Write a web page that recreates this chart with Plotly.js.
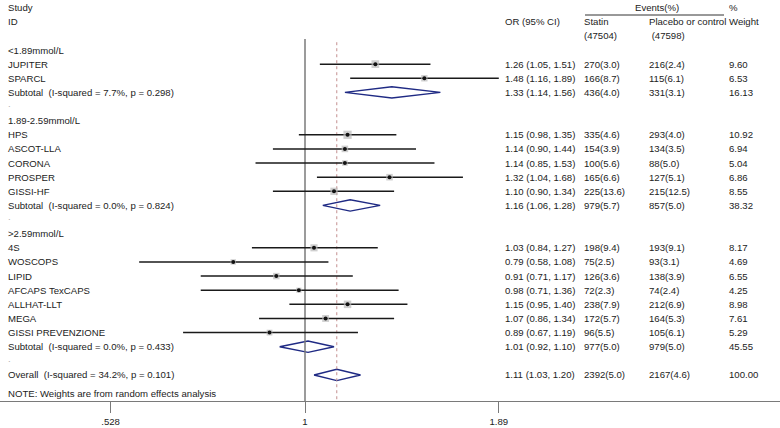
<!DOCTYPE html>
<html>
<head>
<meta charset="utf-8">
<script src="https://cdn.plot.ly/plotly-3.0.1.min.js"></script>
<style>html,body{margin:0;padding:0;background:#fff;}#chart{width:780px;height:428px;}</style>
</head>
<body>
<div id="chart"></div>
<script>
// ---------- data ----------
const rowLabels = ["<1.89mmol/L","JUPITER","SPARCL","Subtotal\u00a0 (I-squared = 7.7%, p = 0.298)",".",
  "1.89-2.59mmol/L","HPS","ASCOT-LLA","CORONA","PROSPER","GISSI-HF","Subtotal\u00a0 (I-squared = 0.0%, p = 0.824)",".",
  ">2.59mmol/L","4S","WOSCOPS","LIPID","AFCAPS TexCAPS","ALLHAT-LLT","MEGA","GISSI PREVENZIONE","Subtotal\u00a0 (I-squared = 0.0%, p = 0.433)",".",
  "Overall\u00a0 (I-squared = 34.2%, p = 0.101)"];
const rowKind = ["head","study","study","sub","blank",
  "head","study","study","study","study","study","sub","blank",
  "head","study","study","study","study","study","study","study","sub","blank",
  "overall"];
const orVal  = [null,1.26,1.48,1.33,null, null,1.15,1.14,1.14,1.32,1.10,1.16,null, null,1.03,0.79,0.91,0.98,1.15,1.07,0.89,1.01,null, 1.11];
const ciLo   = [null,1.05,1.16,1.14,null, null,0.98,0.90,0.85,1.04,0.90,1.06,null, null,0.84,0.58,0.71,0.71,0.95,0.86,0.67,0.92,null, 1.03];
const ciHi   = [null,1.51,1.89,1.56,null, null,1.35,1.44,1.53,1.68,1.34,1.28,null, null,1.27,1.08,1.17,1.36,1.40,1.34,1.19,1.10,null, 1.20];
const statinEv  = [null,"270(3.0)","166(8.7)","436(4.0)",null, null,"335(4.6)","154(3.9)","100(5.6)","165(6.6)","225(13.6)","979(5.7)",null,
  null,"198(9.4)","75(2.5)","126(3.6)","72(2.3)","238(7.9)","172(5.7)","96(5.5)","977(5.0)",null,"2392(5.0)"];
const placeboEv = [null,"216(2.4)","115(6.1)","331(3.1)",null, null,"293(4.0)","134(3.5)","88(5.0)","127(5.1)","215(12.5)","857(5.0)",null,
  null,"193(9.1)","93(3.1)","138(3.9)","74(2.4)","212(6.9)","164(5.3)","105(6.1)","979(5.0)",null,"2167(4.6)"];
const weightPct = [null,9.60,6.53,16.13,null, null,10.92,6.94,5.04,6.86,8.55,38.32,null, null,8.17,4.69,6.55,4.25,8.98,7.61,5.29,45.55,null,100.00];
const statinN = "(47504)", placeboN = "(47598)";
const tickVals = [0.528, 1, 1.89];
const tickText = [".528", "1", "1.89"];

// ---------- geometry/style ----------
const W = 780, H = 428;
const FONT = "Liberation Sans, Arial, sans-serif";
const TXT = "#222";
const rowTop = 50, rowStep = 14.13, plotBottom = 401;
const yTop = -rowTop / rowStep, yBot = (plotBottom - rowTop) / rowStep;
const pxPerDec = 701, x1px = 305;
const xRange = [-x1px / pxPerDec, (W - x1px) / pxPerDec];
const px = p => p / W;

const overallIdx = rowKind.indexOf("overall");
const traces = [];

// diamonds (subtotals and overall)
rowKind.forEach((k, i) => {
  if (k === "sub" || k === "overall") {
    const h = 0.4;
    traces.push({
      type: "scatter", mode: "lines", hoverinfo: "skip",
      x: [ciLo[i], orVal[i], ciHi[i], orVal[i], ciLo[i]],
      y: [i, i - h, i, i + h, i],
      line: {color: "#1f2a84", width: 1.4}
    });
  }
});

// null line at 1 and overall dashed line
traces.push({type: "scatter", mode: "lines", hoverinfo: "skip",
  x: [1, 1], y: [-0.78, yBot], line: {color: "#7a7a7a", width: 1.5}});
traces.push({type: "scatter", mode: "lines", hoverinfo: "skip",
  x: [orVal[overallIdx], orVal[overallIdx]], y: [-0.55, yBot],
  line: {color: "#c48f8f", width: 1, dash: "3px,3px"}});

// CI lines
const cx = [], cy = [];
rowKind.forEach((k, i) => {
  if (k === "study") { cx.push(ciLo[i], ciHi[i], null); cy.push(i, i, null); }
});
traces.push({type: "scatter", mode: "lines", hoverinfo: "skip", x: cx, y: cy,
  line: {color: "#1a1a1a", width: 1.5}});

// weight boxes and point dots
const sx = [], sy = [], ss = [];
rowKind.forEach((k, i) => {
  if (k === "study") { sx.push(orVal[i]); sy.push(i); ss.push(2.5 * Math.sqrt(weightPct[i])); }
});
traces.push({type: "scatter", mode: "markers", hoverinfo: "skip", x: sx, y: sy,
  marker: {symbol: "square", size: ss, color: "#bababa", line: {width: 0}}});
traces.push({type: "scatter", mode: "markers", hoverinfo: "skip", x: sx, y: sy,
  marker: {symbol: "circle", size: 4, color: "#111", line: {width: 0}}});

// ---------- text ----------
const ann = [];
function t(text, xp, y, opts) {
  ann.push(Object.assign({
    text: text, x: px(xp), y: y, xref: "paper", yref: "y",
    xanchor: "left", yanchor: "middle", showarrow: false, borderpad: 0,
    font: {family: FONT, size: 9.6, color: TXT}
  }, opts || {}));
}
const colLeft = 7, colOR = 504, colSt = 583, colPl = 648, colWt = 728;
t("Study", colLeft, -3);
t("ID", colLeft, -2);
t("OR (95% CI)", colOR, -2);
t("Events(%)", 657, -3, {xanchor: "center"});
t("%", colWt, -3);
t("Statin", colSt, -2);
t("Placebo or control", colPl, -2);
t("Weight", colWt, -2);
t(statinN, colSt, -1);
t("\u00a0" + placeboN, colPl, -1);

rowKind.forEach((k, i) => {
  if (k === "blank") {
    t(rowLabels[i], colLeft, i - 0.2, {font: {family: FONT, size: 9.6, color: "#b0b0b0"}});
    return;
  }
  t(rowLabels[i], colLeft, i);
  if (orVal[i] !== null) {
    t(orVal[i].toFixed(2) + " (" + ciLo[i].toFixed(2) + ", " + ciHi[i].toFixed(2) + ")", colOR, i);
    t(statinEv[i], colSt, i);
    t(placeboEv[i], colPl, i);
    t(weightPct[i].toFixed(2), colWt, i);
  }
});
t("NOTE: Weights are from random effects analysis", colLeft, (393 - rowTop) / rowStep);

const layout = {
  width: W, height: H,
  margin: {l: 0, r: 0, t: 0, b: H - plotBottom, pad: 0},
  paper_bgcolor: "#fff", plot_bgcolor: "#fff",
  showlegend: false,
  xaxis: {
    type: "log", range: xRange, domain: [0, 1],
    showgrid: false, zeroline: false,
    showline: true, linecolor: "#7a7a7a", linewidth: 1,
    ticks: "outside", ticklen: 11, tickwidth: 1, tickcolor: "#7a7a7a",
    tickvals: tickVals, ticktext: tickText,
    tickfont: {family: FONT, size: 9.6, color: TXT},
    fixedrange: true
  },
  yaxis: {
    range: [yBot, yTop], showgrid: false, zeroline: false,
    showticklabels: false, showline: false, ticks: "", fixedrange: true
  },
  shapes: [{
    type: "line", xref: "paper", yref: "paper",
    x0: px(585), x1: px(724), y0: 1 - 15 / plotBottom, y1: 1 - 15 / plotBottom,
    line: {color: "#333", width: 1}
  }],
  annotations: ann
};

Plotly.newPlot("chart", traces, layout, {staticPlot: true, displayModeBar: false});
</script>
</body>
</html>
